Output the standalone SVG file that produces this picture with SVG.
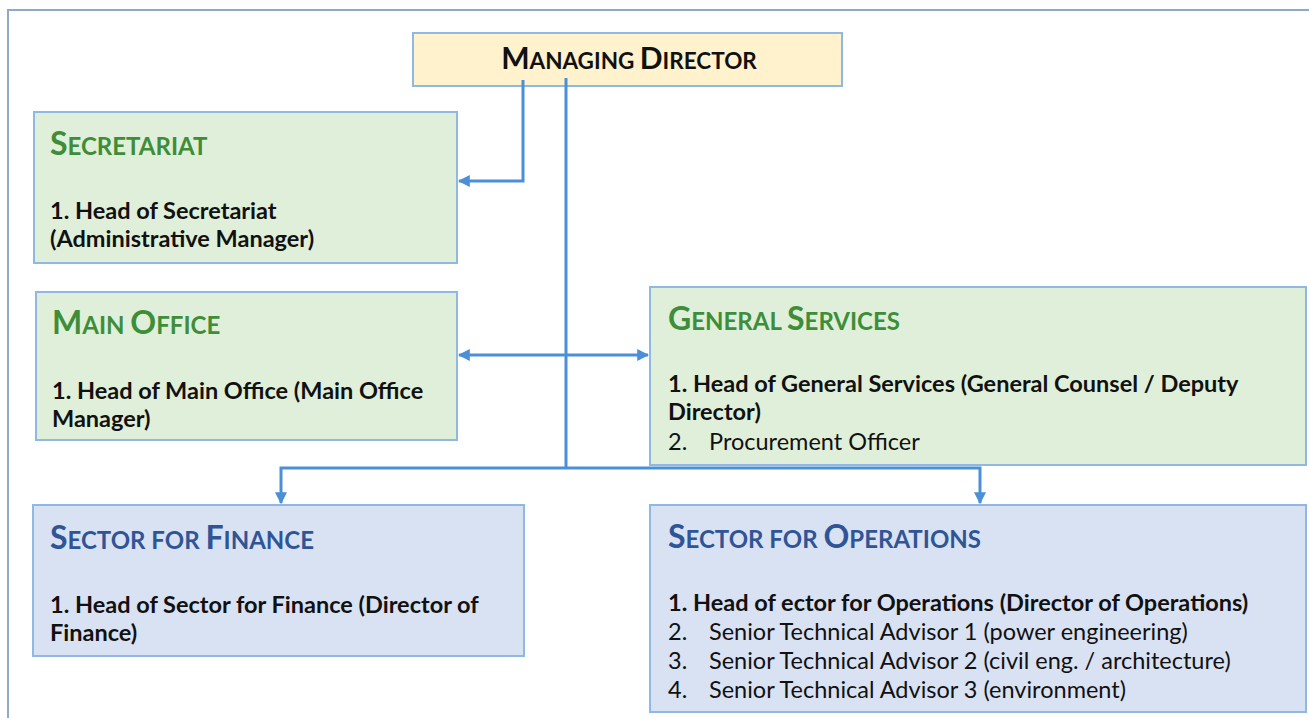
<svg xmlns="http://www.w3.org/2000/svg" width="1309" height="718" viewBox="0 0 1309 718">
<defs>
<style>
.box{stroke:#8fb8e3;stroke-width:2}
.green{fill:#e0efd9}
.blue{fill:#d9e2f3}
.yellow{fill:#fff2cc}
text{font-family:Lato,"Liberation Sans",sans-serif}
.tg{fill:#3e8d38;font-weight:bold}
.tb{fill:#2f5597;font-weight:bold}
.tk{fill:#111;font-weight:bold}
.big{font-size:32px}
.sm{font-size:24px}
.mbig{font-size:30px}
.msm{font-size:22.5px}
.b{font-size:23.5px;font-weight:bold;fill:#111}
.r{font-size:23.5px;fill:#111}
.conn{fill:none;stroke:#4a8fd7;stroke-width:3}
</style>
<marker id="ah" viewBox="0 0 10 10" refX="9" refY="5" markerWidth="4" markerHeight="4" orient="auto-start-reverse" markerUnits="strokeWidth">
<path d="M0,0 L10,5 L0,10 z" fill="#4a8fd7"/>
</marker>
</defs>
<rect width="1309" height="718" fill="#fff"/>
<path d="M8,718 V10 H1309" fill="none" stroke="#8fa9c9" stroke-width="2"/>

<g id="managing-director">
<rect class="box yellow" x="413" y="33" width="429" height="53"/>
<text x="629" y="69" text-anchor="middle" class="tk"><tspan class="mbig">M</tspan><tspan class="msm">ANAGING </tspan><tspan class="mbig">D</tspan><tspan class="msm">IRECTOR</tspan></text>
</g>

<g id="secretariat">
<rect class="box green" x="34" y="112" width="423" height="151"/>
<text x="50" y="155" class="tg"><tspan class="big">S</tspan><tspan class="sm">ECRETARIAT</tspan></text>
<text x="50" y="219" class="b">1. Head of Secretariat</text>
<text x="50" y="247" class="b">(Administrative Manager)</text>
</g>

<g id="main-office">
<rect class="box green" x="36" y="292" width="421" height="148"/>
<text x="52" y="334" class="tg"><tspan class="big">M</tspan><tspan class="sm">AIN </tspan><tspan class="big">O</tspan><tspan class="sm">FFICE</tspan></text>
<text x="52" y="399" class="b">1. Head of Main Office (Main Office</text>
<text x="52" y="427" class="b">Manager)</text>
</g>

<g id="general-services">
<rect class="box green" x="650" y="287" width="656" height="178"/>
<text x="668" y="330" class="tg"><tspan class="big">G</tspan><tspan class="sm">ENERAL </tspan><tspan class="big">S</tspan><tspan class="sm">ERVICES</tspan></text>
<text x="668" y="392" class="b">1. Head of General Services (General Counsel / Deputy</text>
<text x="668" y="420" class="b">Director)</text>
<text x="668" y="450" class="r">2.</text>
<text x="709" y="450" class="r">Procurement Officer</text>
</g>

<g id="sector-finance">
<rect class="box blue" x="33" y="505" width="491" height="151"/>
<text x="50" y="549" class="tb"><tspan class="big">S</tspan><tspan class="sm">ECTOR FOR </tspan><tspan class="big">F</tspan><tspan class="sm">INANCE</tspan></text>
<text x="50" y="613" class="b">1. Head of Sector for Finance (Director of</text>
<text x="50" y="641" class="b">Finance)</text>
</g>

<g id="sector-operations">
<rect class="box blue" x="650" y="505" width="656" height="207"/>
<text x="668" y="548" class="tb"><tspan class="big">S</tspan><tspan class="sm">ECTOR FOR </tspan><tspan class="big">O</tspan><tspan class="sm">PERATIONS</tspan></text>
<text x="668" y="611" class="b">1. Head of ector for Operations (Director of Operations)</text>
<text x="668" y="640" class="r">2.</text>
<text x="709" y="640" class="r">Senior Technical Advisor 1 (power engineering)</text>
<text x="668" y="669" class="r">3.</text>
<text x="709" y="669" class="r">Senior Technical Advisor 2 (civil eng. / architecture)</text>
<text x="668" y="698" class="r">4.</text>
<text x="709" y="698" class="r">Senior Technical Advisor 3 (environment)</text>
</g>

<g id="connectors">
<path class="conn" d="M523,80 V181 H459" marker-end="url(#ah)"/>
<path class="conn" d="M566,78 V468"/>
<path class="conn" d="M459,355 H648" marker-start="url(#ah)" marker-end="url(#ah)"/>
<path class="conn" d="M281,503 V468 H980 V503" marker-start="url(#ah)" marker-end="url(#ah)"/>
</g>
</svg>
